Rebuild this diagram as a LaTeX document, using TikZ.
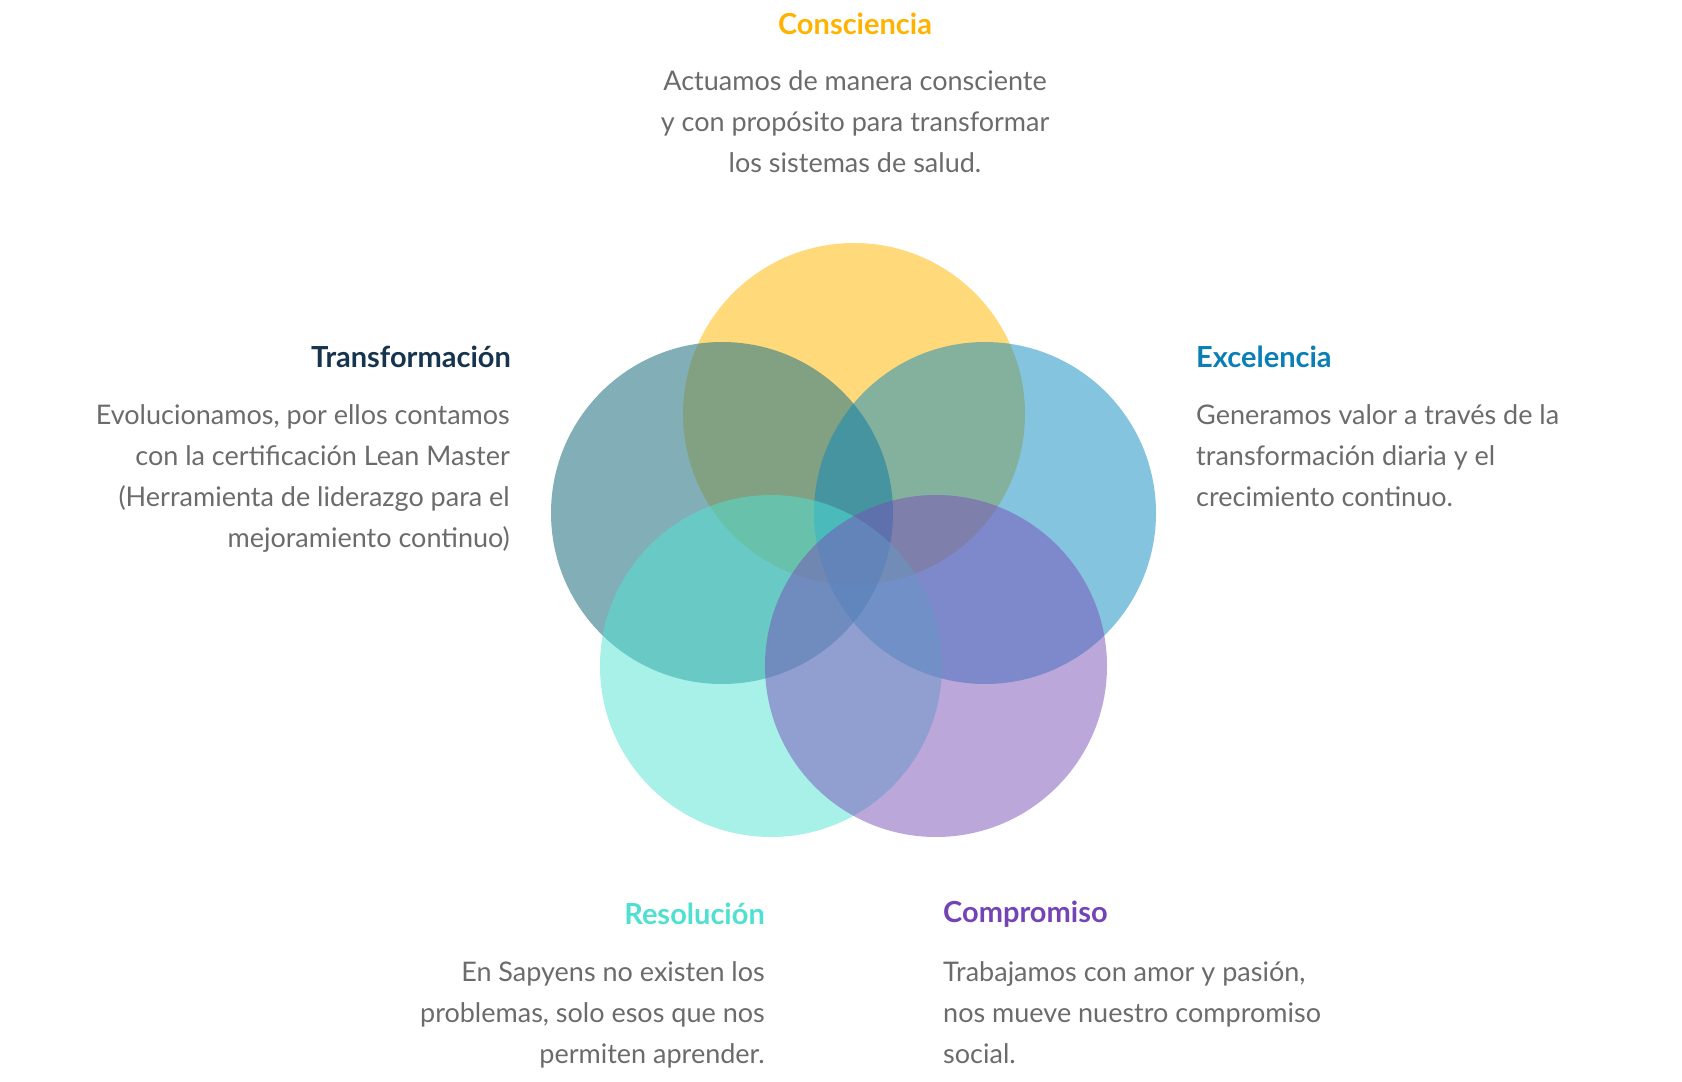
\documentclass[tikz,border=0pt]{standalone}
\usepackage{fontspec}
\setmainfont{Lato}
\definecolor{cy}{HTML}{FFC533}
\definecolor{cd}{HTML}{2F7A87}
\definecolor{cb}{HTML}{0A8AC0}
\definecolor{ct}{HTML}{4FE3D3}
\definecolor{cp}{HTML}{7A4FB8}
\definecolor{tgrey}{HTML}{6B6B6B}
\definecolor{tyel}{HTML}{FFB300}
\definecolor{tnavy}{HTML}{17344F}
\definecolor{tblue}{HTML}{0A7FB5}
\definecolor{tturq}{HTML}{4FE0D0}
\definecolor{tpur}{HTML}{7443B5}
\begin{document}
\begin{tikzpicture}[x=1pt,y=-1pt,
  circ/.style={circle,minimum size=342pt,inner sep=0pt,draw=none},
  ttl/.style={font=\fontsize{29}{35}\selectfont\bfseries,inner sep=0pt},
  bdy/.style={font=\fontsize{27}{41}\selectfont,text=tgrey,inner sep=0pt}]
\useasboundingbox (0,0) rectangle (1682,1082);
\node[circ,fill=cy,fill opacity=0.65] (c1) at (854,414) {};
\node[circ,fill=cd,fill opacity=0.6] (c2) at (722,513) {};
\node[circ,fill=cb,fill opacity=0.5] (c3) at (985,513) {};
\node[circ,fill=ct,fill opacity=0.5] (c4) at (771,666) {};
\node[circ,fill=cp,fill opacity=0.5] (c5) at (936,666) {};
\node[ttl,text=tyel] (t1) at (855,24) {Consciencia};
\node[bdy,align=center,anchor=north] (b1) at (855,70) {Actuamos de manera consciente\\y con propósito para transformar\\los sistemas de salud.};
\node[ttl,text=tnavy,anchor=east] (t2) at (511,357) {Transformación};
\node[bdy,align=right,anchor=north east] (b2) at (510,404) {Evolucionamos, por ellos contamos\\con la certificación Lean Master\\(Herramienta de liderazgo para el\\mejoramiento continuo)};
\node[ttl,text=tblue,anchor=west] (t3) at (1196,357) {Excelencia};
\node[bdy,align=left,anchor=north west] (b3) at (1196,404) {Generamos valor a través de la\\transformación diaria y el\\crecimiento continuo.};
\node[ttl,text=tturq,anchor=east] (t4) at (765,914) {Resolución};
\node[bdy,align=right,anchor=north east] (b4) at (765,961) {En Sapyens no existen los\\problemas, solo esos que nos\\permiten aprender.};
\node[ttl,text=tpur,anchor=west] (t5) at (943,914) {Compromiso};
\node[bdy,align=left,anchor=north west] (b5) at (943,961) {Trabajamos con amor y pasión,\\nos mueve nuestro compromiso\\social.};
\end{tikzpicture}
\end{document}
